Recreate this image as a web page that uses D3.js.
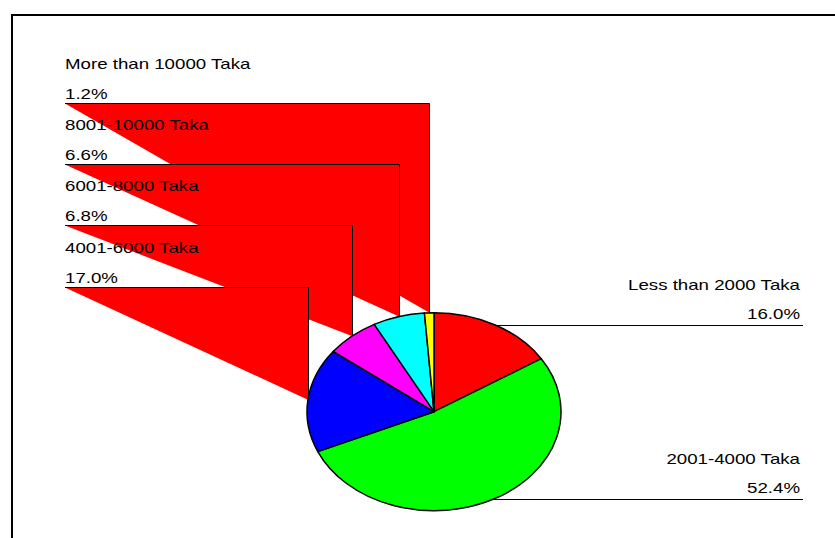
<!DOCTYPE html>
<html>
<head>
<meta charset="utf-8">
<script src="https://cdn.jsdelivr.net/npm/d3@7"></script>
<style>
  html, body { margin: 0; padding: 0; background: #fff; }
  svg { display: block; }
  text { font-family: "Liberation Sans", Arial, sans-serif; font-size: 14.6px; fill: #000; }
</style>
</head>
<body>
<svg id="chart" width="835" height="538"></svg>
<script>
// Monthly income groups and their shares (%)
const categories = ["Less than 2000 Taka", "2001-4000 Taka", "4001-6000 Taka",
                    "6001-8000 Taka", "8001-10000 Taka", "More than 10000 Taka"];
const shares = [16.0, 52.4, 17.0, 6.8, 6.6, 1.2];
const colors = ["#ff0000", "#00ff00", "#0000ff", "#ff00ff", "#00ffff", "#ffff00"];

const W = 835, H = 538;
const svg = d3.select("#chart");
svg.append("rect").attr("width", W).attr("height", H).attr("fill", "#fff");

// Outer frame (left and top edges)
svg.append("path")
  .attr("d", `M12,${H} V15 H${W}`)
  .attr("fill", "none").attr("stroke", "#000").attr("stroke-width", 2);

// Pie geometry: elliptical pie (horizontally stretched)
const cx = 434, cy = 411.7, rx = 127, ry = 99;
const sx = 1.28; // horizontal stretch applied to text

const data = categories.map((c, i) => ({ cat: c, val: shares[i], color: colors[i] }));
const pie = d3.pie().sort(null).value(d => d.val).startAngle(0).endAngle(2 * Math.PI);
const arcs = pie(data);
const arc = d3.arc().innerRadius(0).outerRadius(rx);

// Point on the ellipse rim at the middle of a slice
function rim(a) {
  const m = (a.startAngle + a.endAngle) / 2;
  return [cx + rx * Math.sin(m), cy - ry * Math.cos(m)];
}
const snap = v => Math.round(v) + 0.5;

const fmt = v => v.toFixed(1) + "%";
const leaders = svg.append("g");
const labels = svg.append("g");

// Right-side labels (first two slices)
const rightEnd = 803, rightText = 800;
arcs.slice(0, 2).forEach(a => {
  const [px, py] = rim(a);
  leaders.append("path")
    .attr("d", `M${rightEnd},${snap(py)} H${px}`)
    .attr("fill", "#ff0000").attr("stroke", "#000").attr("stroke-width", 1);
  labels.append("text")
    .attr("transform", `translate(${rightText},${py - 35}) scale(${sx},1)`)
    .attr("text-anchor", "end").text(a.data.cat);
  labels.append("text")
    .attr("transform", `translate(${rightText},${py - 6}) scale(${sx},1)`)
    .attr("text-anchor", "end").text(fmt(a.data.val));
});

// Left-side labels, stacked from the smallest slice downward
const leftX = 65, leftTop = 103, leftStep = 61.2;
arcs.slice(2).reverse().forEach((a, i) => {
  const [px, py] = rim(a);
  const ly = snap(leftTop + i * leftStep);
  leaders.append("path")
    .attr("d", `M${leftX},${ly} H${snap(px)} V${py}`)
    .attr("fill", "#ff0000").attr("stroke", "#000").attr("stroke-width", 1);
  labels.append("text")
    .attr("transform", `translate(${leftX},${ly - 35}) scale(${sx},1)`)
    .text(a.data.cat);
  labels.append("text")
    .attr("transform", `translate(${leftX},${ly - 5}) scale(${sx},1)`)
    .text(fmt(a.data.val));
});

// Pie slices
const g = svg.append("g").attr("transform", `translate(${cx},${cy}) scale(1,${ry / rx})`);
g.selectAll("path.slice").data(arcs).join("path")
  .attr("class", "slice")
  .attr("d", arc)
  .attr("fill", d => d.data.color)
  .attr("stroke", "#000")
  .attr("stroke-width", 1.5)
  .attr("vector-effect", "non-scaling-stroke")
  .attr("stroke-linejoin", "round");
</script>
</body>
</html>
